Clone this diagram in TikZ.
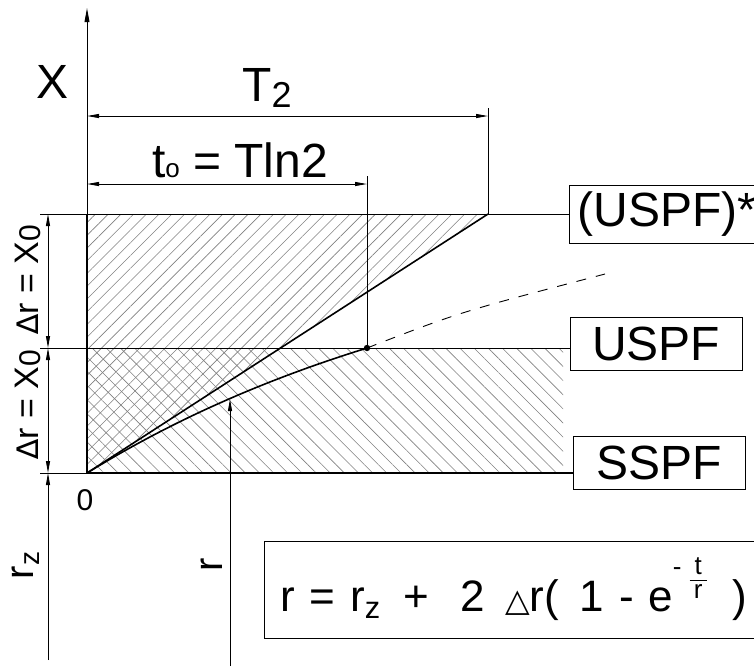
\documentclass[tikz,border=0pt]{standalone}
\usepackage{fontspec}
\setmainfont{Liberation Sans}
\newfontfamily\symfont{DejaVu Sans}
\usetikzlibrary{arrows.meta,patterns.meta}
\newcommand{\fsz}[1]{\fontsize{#1}{#1}\selectfont}
\newcommand{\stackfrac}[2]{\setlength{\tabcolsep}{0pt}\renewcommand{\arraystretch}{0.9}%
  \begin{tabular}{@{\,}c@{\,}}#1\\[-1pt]\hline\noalign{\vskip 1pt}#2\end{tabular}}

\begin{document}
\begin{tikzpicture}[x=0.5pt,y=-0.5pt,
  thinline/.style={line width=0.45pt},
  thickline/.style={line width=0.8pt},
  tip/.tip={Triangle[length=6pt,width=2pt]},
  dimline/.style={thinline,tip-tip},
  box/.style={draw,thinline,font=\fsz{24},minimum height=26.5pt,inner xsep=4pt},
  lbl/.style={font=\fsz{24},inner sep=0pt}]
  \useasboundingbox (0,0) rectangle (754,666);
  \clip (0,0) rectangle (754,666);
  % main points
  \coordinate (O) at (87,473);
  \coordinate (top) at (87,8);
  \coordinate (TL) at (87,214);
  \coordinate (ML) at (87,348);
  \coordinate (C2) at (488,214);
  \coordinate (dot) at (367,348);
  \coordinate (dend) at (605,274);
  \coordinate (rtip) at (230,399);
  \coordinate (rfoot) at (230,666);
  % extension lines and dimension points
  \coordinate (e1) at (40,214);
  \coordinate (e2) at (40,348);
  \coordinate (e3) at (40,473);
  \coordinate (d1) at (48,214);
  \coordinate (d2) at (48,348);
  \coordinate (d3) at (48,473);
  \coordinate (d4) at (48,660);
  \coordinate (t2a) at (87,116);
  \coordinate (t2b) at (488,116);
  \coordinate (t2c) at (488,108);
  \coordinate (toa) at (87,184);
  \coordinate (tob) at (367,184);
  \coordinate (toc) at (367,176);

  % hatching
  \fill[pattern={Lines[angle=45,distance=4.5pt,line width=0.3pt]},pattern color=black!50]
    (O) -- (C2) -- (TL) -- cycle;
  \fill[pattern={Lines[angle=-45,distance=5pt,line width=0.3pt]},pattern color=black!50]
    (ML) rectangle (563,473);

  % boxes
  \node[box,anchor=west] (uspfs) at (569,214) {(USPF)*};
  \node[box,minimum width=86pt] (uspf) at (656,344) {USPF};
  \node[box,minimum width=86pt] (sspf) at (659,463) {SSPF};
  \node[draw,thinline,anchor=west,font=\fsz{22},minimum height=48.5pt,
    inner xsep=8pt,text width=250pt,align=left] (formula) at (264,589.5)
    {r = r\textsubscript{z}\hspace{4pt} +\hspace{8pt} 2\hspace{3pt} {\symfont\fsz{16}△}r(\hspace{3pt} 1 - e\raisebox{12pt}{\fsz{13}\raisebox{6pt}{-}\hspace{4pt}\stackfrac{t}{r}}\hspace{13pt})};

  \draw[thinline] (e1) -- (uspfs.west);
  \draw[thinline] (e2) -- (e2 -| uspf.west);
  \draw[thinline] (e3) -- (O);
  \draw[thickline] (O) -- (e3 -| sspf.west);

  % axis and outline
  \draw[thinline,-{Triangle[length=7pt,width=2.4pt]}] (TL) -- (top);
  \draw[thickline] (O) -- (TL);
  \draw[thickline] (O) -- (C2);
  \draw[thickline] plot[domain=0:280,samples=60] ({87+\x},{473-250*(1-exp(-\x/404))});
  \draw[thinline,dash pattern=on 5pt off 5pt] (dot) .. controls (460,312) .. (dend);
  \fill (dot) circle (1.6pt);

  % dimensions
  \draw[thinline] (t2c) -- (C2);
  \draw[thinline] (toc) -- (dot);
  \draw[dimline] (t2a) -- (t2b);
  \draw[dimline] (toa) -- (tob);
  \draw[dimline] (d1) -- (d2);
  \draw[dimline] (d2) -- (d3);
  \draw[thinline,-tip] (d4) -- (d3);
  \draw[thinline,-tip] (rfoot) -- (rtip);

  % labels
  \node[lbl] (X) at (53,82) {X};
  \node[lbl] (T2) at (267,88) {T\raisebox{-0.25ex}{\fsz{18}2}};
  \node[lbl] (to) at (240,160) {t{\fsz{13}o} = Tln2};
  \node[lbl,font=\fsz{15}] (zero) at (85,500) {0};
  \node[lbl,rotate=90,font=\fsz{17}] (dr1) at (28,280) {{\symfont\fsz{15}∆}r = X\raisebox{-0.1ex}{\fsz{15}0}};
  \node[lbl,rotate=90,font=\fsz{17}] (dr2) at (28,405) {{\symfont\fsz{15}∆}r = X\raisebox{-0.1ex}{\fsz{15}0}};
  \node[lbl,rotate=90,font=\fsz{20}] (rz) at (26,565) {r\textsubscript{z}};
  \node[lbl,rotate=90,font=\fsz{20}] (r) at (212,565) {r};
\end{tikzpicture}
\end{document}
